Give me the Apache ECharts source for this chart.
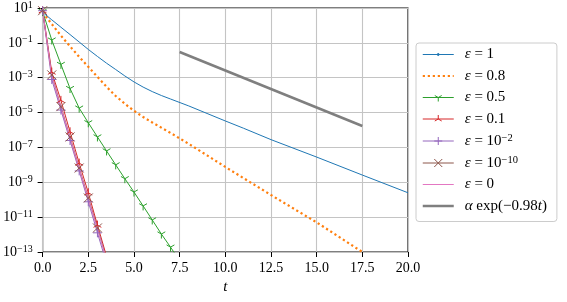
<!DOCTYPE html>
<html><head><meta charset="utf-8">
<script src="https://cdn.jsdelivr.net/npm/echarts@6/dist/echarts.min.js"></script>
<style>html,body{margin:0;padding:0;background:#fff}#c{width:567px;height:302px}</style>
</head><body><div id="c"></div>
<script>
// ---- data ----
const xTicks = [0, 2.5, 5, 7.5, 10, 12.5, 15, 17.5, 20];
const yTicks = [1e-13, 1e-11, 1e-9, 1e-7, 1e-5, 1e-3, 1e-1, 1e1];

const legendNames = ['ε = 1', 'ε = 0.8', 'ε = 0.5', 'ε = 0.1', 'ε = 10^-2', 'ε = 10^-10', 'ε = 0', 'α exp(−0.98t)'];

const tEps1 = [0, 0.5, 1, 1.5, 2, 2.5, 3, 3.5, 4, 4.5, 5, 5.5, 6, 6.5, 7, 8, 9, 10, 11, 12.5, 15, 17.5, 20];
const vEps1 = [5.6, 2.1, 0.79, 0.30, 0.112, 0.042, 0.0166, 0.0068, 0.00295, 0.00126, 5.75e-4, 2.9e-4, 1.6e-4, 9.5e-5, 6.0e-5, 2.4e-5, 8.9e-6, 3.3e-6, 1.26e-6, 2.8e-7, 2.8e-8, 2.6e-9, 2.5e-10];

const tEps08 = [0, 0.5, 1, 1.5, 2, 2.5, 3, 3.5, 4, 4.5, 5, 5.5, 6, 7, 8, 9, 10, 12.5, 15, 17.5];
const vEps08 = [5.6, 1.2, 0.26, 0.063, 0.0158, 0.0042, 1.12e-3, 3.0e-4, 8.9e-5, 3.2e-5, 1.26e-5, 5.6e-6, 2.7e-6, 6.8e-7, 1.6e-7, 3.5e-8, 7.6e-9, 1.86e-10, 5.0e-12, 1.0e-13];

const tEps05 = [0, 0.5, 1, 1.5, 2, 2.5, 3, 3.5, 4, 4.5, 5, 5.5, 6, 6.5, 7, 7.5];
const vEps05 = [6.3, 0.145, 5.8e-3, 2.4e-4, 1.8e-5, 2.6e-6, 4.0e-7, 6.3e-8, 1.0e-8, 1.6e-9, 2.75e-10, 4.4e-11, 6.9e-12, 1.07e-12, 1.9e-13, 3.2e-14];

const tFast = [0, 0.5, 1, 1.5, 2, 2.5, 3, 3.5];
const vEps01 = [7, 2.1e-3, 5.0e-5, 7.9e-7, 1.26e-8, 2.5e-10, 3.5e-12, 5.6e-14];
const vEps1em2 = [7, 7.9e-4, 1.4e-5, 2.5e-7, 4.5e-9, 7.6e-11, 1.26e-12, 2.2e-14];
const vEps1em10 = [7, 1.45e-3, 2.2e-5, 4.0e-7, 6.6e-9, 1.26e-10, 2.4e-12, 4.0e-14];
const vEps0 = [7, 1.3e-3, 2.0e-5, 3.6e-7, 6.0e-9, 1.1e-10, 2.1e-12, 3.6e-14];

const tRef = [7.5, 17.5];
const vRef = [3.0e-2, 1.7e-6];

const colors = ['#1f77b4', '#ff7f0e', '#2ca02c', '#d62728', '#9467bd', '#8c564b', '#e377c2', '#7f7f7f'];

// ---- styling ----
const FONT = 'Liberation Serif';
const PAD = 'M-10,-10L-10,-10M10,10L10,10';
const SYM = {
  none: 'path://' + PAD,
  dot: 'path://' + PAD + 'M-2.5,0A2.5,2.5,0,1,0,2.5,0A2.5,2.5,0,1,0,-2.5,0Z',
  triDown: 'path://' + PAD + 'M0,0L0,10M0,0L-8.66,-5M0,0L8.66,-5',
  triUp: 'path://' + PAD + 'M0,0L0,-10M0,0L-8.66,5M0,0L8.66,5',
  plus: 'path://M-10,0L10,0M0,-10L0,10',
  cross: 'path://M-10,-10L10,10M-10,10L10,-10'
};

function mk(i, xs, ys, width, symbol, showSym, lineType, cap) {
  const c = colors[i];
  return {
    name: legendNames[i], type: 'line',
    data: xs.map((x, k) => [x, ys[k]]),
    symbol: symbol, symbolSize: 9, showSymbol: showSym,
    itemStyle: { color: c, borderColor: c, borderWidth: 1 },
    lineStyle: { color: c, width: width, type: lineType || 'solid', cap: cap || 'butt' },
    emphasis: { disabled: true }, clip: true, silent: true
  };
}

const series = [
  mk(0, tEps1, vEps1, 1, SYM.dot, false),
  mk(1, tEps08, vEps08, 2.2, SYM.none, false, [2.2, 2.8], 'butt'),
  mk(2, tEps05, vEps05, 1, SYM.triDown, true),
  mk(3, tFast, vEps01, 1, SYM.triUp, true),
  mk(4, tFast, vEps1em2, 1, SYM.plus, true),
  mk(5, tFast, vEps1em10, 1, SYM.cross, true),
  mk(6, tFast, vEps0, 1, SYM.none, false),
  mk(7, tRef, vRef, 2.5, SYM.none, false)
];

function legendFmt(name) {
  if (name.startsWith('α')) return '{i|α}{n| exp(−0.98}{i|t}{n|)}';
  const m = name.match(/^ε = 10\^(-?\d+)$/);
  if (m) return '{i|ε}{n| = 10}{s|' + m[1].replace('-', '−') + '}';
  return '{i|ε}{n|' + name.slice(1) + '}';
}

const rich = {
  n: { fontFamily: FONT, fontSize: 15, color: '#000', lineHeight: 16 },
  i: { fontFamily: FONT, fontSize: 15, fontStyle: 'italic', color: '#000', lineHeight: 16 },
  s: { fontFamily: FONT, fontSize: 10.5, color: '#000', lineHeight: 9, verticalAlign: 'top' },
  b: { fontFamily: FONT, fontSize: 14, color: '#000', lineHeight: 16 },
  ys: { fontFamily: FONT, fontSize: 10, color: '#000', lineHeight: 9, verticalAlign: 'top' }
};

const chart = echarts.init(document.getElementById('c'), null, { renderer: 'canvas' });
chart.setOption({
  animation: false,
  backgroundColor: '#fff',
  grid: { left: 41, right: 159, top: 8, bottom: 50, show: true, borderColor: '#000', borderWidth: 1.1, backgroundColor: 'transparent' },
  xAxis: {
    type: 'value', min: 0, max: 20, interval: 2.5,
    axisLine: { show: false },
    axisTick: { show: true, length: 5, lineStyle: { color: '#000', width: 1 } },
    axisLabel: { margin: 9, fontFamily: FONT, fontSize: 14, color: '#000', formatter: v => v.toFixed(1) },
    splitLine: { show: true, lineStyle: { color: '#c4c4c4', width: 1.1 } },
    name: 't', nameLocation: 'middle', nameGap: 28,
    nameTextStyle: { fontFamily: FONT, fontSize: 15, fontStyle: 'italic', color: '#000' }
  },
  yAxis: {
    type: 'log', logBase: 10, min: 1e-13, max: 10,
    axisLine: { show: false },
    axisTick: { show: true, length: 5, lineStyle: { color: '#000', width: 1 }, customValues: yTicks },
    axisLabel: {
      margin: 10, customValues: yTicks, rich: rich,
      formatter: v => {
        const e = Math.round(Math.log10(v));
        return '{b|10}{ys|' + (e < 0 ? '−' : '') + Math.abs(e) + '}';
      }
    },
    splitLine: { show: true, lineStyle: { color: '#c4c4c4', width: 1.1 } }
  },
  legend: {
    orient: 'vertical', left: 416, top: 43,
    itemWidth: 31, itemHeight: 10, itemGap: 6.5,
    padding: [4, 10, 8, 5.5],
    backgroundColor: 'rgba(255,255,255,0.85)', borderColor: '#cccccc', borderWidth: 1, borderRadius: 3,
    lineStyle: { width: 'inherit' },
    itemStyle: { borderWidth: 1 },
    selectedMode: false,
    data: legendNames,
    formatter: legendFmt,
    textStyle: { fontFamily: FONT, fontSize: 15, color: '#000', padding: [0, 0, 0, 6], rich: rich }
  },
  series: series
});
</script>
</body></html>
